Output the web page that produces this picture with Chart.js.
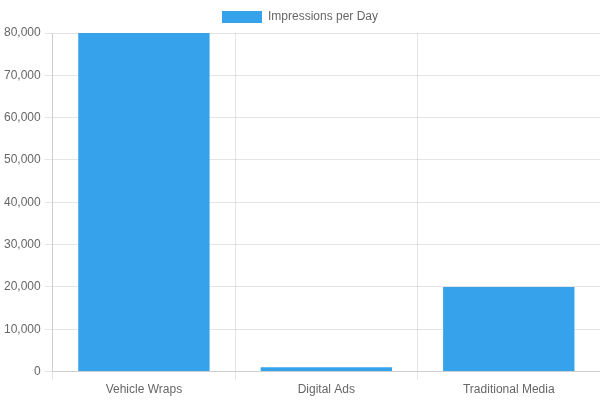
<!DOCTYPE html>
<html>
<head>
<meta charset="utf-8">
<script src="https://cdn.jsdelivr.net/npm/chart.js@4"></script>
<style>
  html, body { margin: 0; padding: 0; background: #fff; }
  #wrap { width: 600px; height: 400px; }
</style>
</head>
<body>
<div id="wrap"><canvas id="graphe"></canvas></div>
<script>
// donnees
const categories = ["Vehicle Wraps", "Digital Ads", "Traditional Media"];
const impressions = [80000, 1000, 20000];
const serieLabel = "Impressions per Day";

Chart.defaults.font.size = 12;
Chart.defaults.color = "#666";

let ctx = document.getElementById("graphe");
let graphe = new Chart(ctx, {
    type: 'bar',
    data: {
        labels: categories,
        datasets: [{
            label: serieLabel,
            data: impressions,
            backgroundColor: "#36A2EB",
            borderWidth: 0
        }]
    },
    options: {
        responsive: true,
        maintainAspectRatio: false,
        animation: false,
        layout: { padding: { top: 1 } },
        scales: {
            y: {
                beginAtZero: true,
                max: 80000,
                ticks: { stepSize: 10000, padding: 4 }
            }
        }
    }
});
</script>
</body>
</html>
